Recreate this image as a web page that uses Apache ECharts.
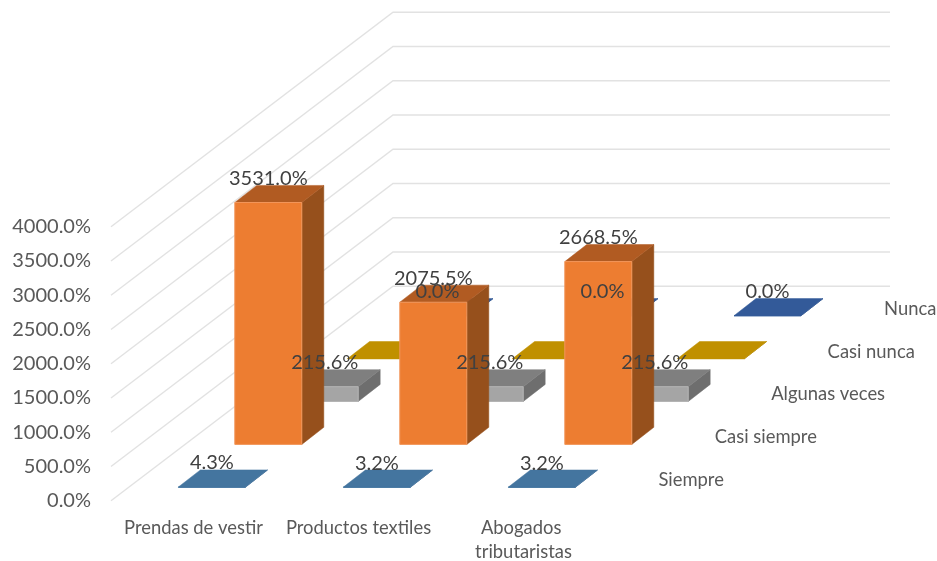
<!DOCTYPE html>
<html>
<head>
<meta charset="utf-8">
<style>html,body{margin:0;padding:0;background:#fff}#c{width:937px;height:561px}</style>
<script src="https://cdn.jsdelivr.net/npm/echarts@6/dist/echarts.min.js"></script>
</head>
<body>
<div id="c"></div>
<script>
var categories = ['Prendas de vestir', 'Productos textiles', 'Abogados tributaristas'];
var rowNames = ['Siempre', 'Casi siempre', 'Algunas veces', 'Casi nunca', 'Nunca'];
var siempre = [4.3, 3.2, 3.2];
var casiSiempre = [3531.0, 2075.5, 2668.5];
var algunasVeces = [215.6, 215.6, 215.6];
var casiNunca = [0, 0, 0];
var nunca = [0, 0, 0];
var rowValues = [siempre, casiSiempre, algunasVeces, casiNunca, nunca];
var rowHasLabels = [true, true, true, false, true];
var wallTicks = [0, 500, 1000, 1500, 2000, 2500, 3000, 3500, 4000];

// colours per row: front, top, side
var rowColors = [
  ['#5b9bd5', '#44759f', '#3a6690'],
  ['#ed7d31', '#b15b22', '#96501c'],
  ['#a5a5a5', '#7f7f7f', '#6e6e6e'],
  ['#ffc000', '#c09000', '#a37a00'],
  ['#4472c4', '#335a99', '#2b4c82']
];
var rowEdges = ['#8db8e0', '#f2965a', '#b4b4b4', '#ffd24d', '#5f86cc'];

// oblique projection of the depth axis (pixels per row)
var ROW_DX = 56.4, ROW_DY = -42.9;
var BAR_DX = 22, BAR_DY = -17.1;
var GAP_DX = 18.4, GAP_DY = -13.4;
var BAR_RATIO = 67 / 165;
var WALL_EXTRA = 2;
var FONT = 'Lato, "Open Sans", sans-serif';

function poly(points, fill, stroke) {
  return {
    type: 'polygon',
    shape: { points: points },
    style: { fill: fill, stroke: stroke || fill, lineWidth: stroke ? 1 : 0.5 }
  };
}

function barGeometry(api, row) {
  var base = api.coord([api.value(0), 0]);
  var top = api.coord([api.value(0), api.value(1)]);
  var w = api.size([1, 0])[0] * BAR_RATIO;
  var ox = row * ROW_DX + GAP_DX, oy = row * ROW_DY + GAP_DY;
  return {
    x0: base[0] - w / 2 + ox,
    x1: base[0] + w / 2 + ox,
    yb: base[1] + oy,
    yt: top[1] + oy,
    w: w
  };
}

function renderBar(row) {
  return function (params, api) {
    var g = barGeometry(api, row), c = rowColors[row];
    var dx = BAR_DX, dy = BAR_DY;
    return {
      type: 'group',
      children: [
        poly([[g.x1, g.yb], [g.x1 + dx, g.yb + dy], [g.x1 + dx, g.yt + dy], [g.x1, g.yt]], c[2]),
        poly([[g.x0, g.yt], [g.x1, g.yt], [g.x1 + dx, g.yt + dy], [g.x0 + dx, g.yt + dy]], c[1]),
        poly([[g.x0, g.yb], [g.x1, g.yb], [g.x1, g.yt], [g.x0, g.yt]], c[0], g.yb - g.yt > 2 ? rowEdges[row] : c[1])
      ]
    };
  };
}

function renderLabel(row) {
  return function (params, api) {
    var g = barGeometry(api, row);
    return {
      type: 'text',
      style: {
        x: (g.x0 + g.x1) / 2,
        y: g.yt - 24,
        text: api.value(1).toFixed(1) + '%',
        fill: '#404040',
        font: '20px ' + FONT,
        align: 'center',
        verticalAlign: 'middle'
      }
    };
  };
}

function renderWall(params, api) {
  var cs = params.coordSys;
  var p = api.coord([0, api.value(1)]);
  var dx = ROW_DX * rowNames.length, dy = ROW_DY * rowNames.length;
  return {
    type: 'polyline',
    shape: { points: [[cs.x, p[1]], [cs.x + dx, p[1] + dy], [cs.x + cs.width + dx + WALL_EXTRA, p[1] + dy]] },
    style: { stroke: '#e2e2e2', lineWidth: 1.4, fill: 'none' }
  };
}

function renderRowName(params, api) {
  var row = api.value(0);
  var last = api.coord([categories.length - 1, 0]);
  var w = api.size([1, 0])[0] * BAR_RATIO;
  return {
    type: 'text',
    style: {
      x: last[0] - w / 2 + row * ROW_DX + GAP_DX + 150,
      y: last[1] + row * ROW_DY + GAP_DY - 7,
      text: rowNames[row],
      fill: '#595959',
      font: '18.4px ' + FONT,
      align: 'left',
      verticalAlign: 'middle'
    }
  };
}

var series = [{
  type: 'custom', name: 'walls', silent: true, z: 1,
  data: wallTicks.map(function (t) { return [0, t]; }),
  encode: { x: 0, y: 1 }, renderItem: renderWall
}];
for (var r = rowNames.length - 1; r >= 0; r--) {
  series.push({
    type: 'custom', name: rowNames[r], silent: true, z: 2 + (rowNames.length - r),
    data: rowValues[r].map(function (v, i) { return [i, v]; }),
    encode: { x: 0, y: 1 }, renderItem: renderBar(r)
  });
}
rowNames.forEach(function (n, row) {
  if (!rowHasLabels[row]) return;
  series.push({
    type: 'custom', name: n + ' labels', silent: true, z: 20,
    data: rowValues[row].map(function (v, i) { return [i, v]; }),
    encode: { x: 0, y: 1 }, renderItem: renderLabel(row)
  });
});
series.push({
  type: 'custom', name: 'rows', silent: true, z: 20,
  data: rowNames.map(function (n, i) { return [i, 0]; }),
  encode: { y: 1 }, renderItem: renderRowName
});

var chart = echarts.init(document.getElementById('c'), null, { renderer: 'canvas' });
chart.setOption({
  animation: false,
  backgroundColor: '#ffffff',
  grid: { left: 111, top: 226.7, width: 495, height: 274, containLabel: false, outerBoundsMode: 'none' },
  xAxis: {
    type: 'category',
    data: categories,
    axisLine: { show: false },
    axisTick: { show: false },
    axisLabel: {
      color: '#595959', fontFamily: FONT, fontSize: 18.4, margin: 15, lineHeight: 24,
      width: 160, overflow: 'break', interval: 0
    }
  },
  yAxis: {
    type: 'value', min: 0, max: 4000, interval: 500,
    splitLine: { show: false },
    axisLine: { show: false },
    axisTick: { show: false },
    axisLabel: {
      color: '#595959', fontFamily: FONT, fontSize: 20, margin: 20, padding: [3, 0, 0, 0],
      formatter: function (v) { return v.toFixed(1) + '%'; }
    }
  },
  series: series
});
</script>
</body>
</html>
